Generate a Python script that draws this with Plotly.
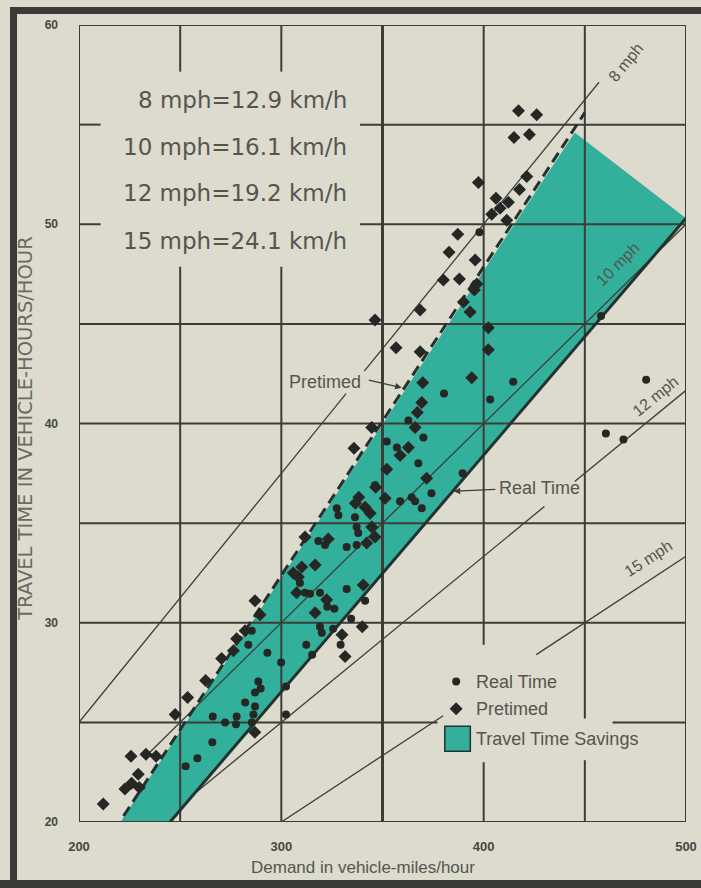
import plotly.graph_objects as go

# ---------------- data ----------------
x_grid = [200, 250, 300, 350, 400, 450, 500]
y_grid = [20, 25, 30, 35, 40, 45, 50, 55, 60]
x_ticks = [200, 300, 400, 500]
y_ticks = [20, 30, 40, 50, 60]

# Real Time observations (circles)
real_x = [252.7, 258.5, 265.9, 266.1, 272.2, 277.9, 277.6, 285.4, 286.2, 287.0,
          282.1, 287.0, 289.8, 288.6, 283.7, 285.4, 293.1, 299.9, 302.3, 302.3,
          312.3, 315.2, 320.0, 325.6, 326.2, 322.7, 319.1, 329.3, 334.5, 341.4,
          332.3, 309.2, 311.7, 314.2, 319.1, 318.3, 321.6, 327.4, 328.2, 336.4,
          337.2, 338.0, 337.2, 332.3, 346.3, 358.7, 364.4, 366.1, 369.4, 374.2,
          389.6, 367.7, 352.1, 357.1, 370.2, 362.8, 380.4, 403.2, 414.6, 397.9,
          458.0, 480.3, 460.4, 469.1]
real_y = [22.8, 23.2, 24.0, 25.3, 25.0, 25.3, 24.9, 25.0, 25.4, 25.8,
          26.0, 26.5, 26.7, 27.05, 28.9, 29.6, 28.5, 28.0, 26.8, 25.4,
          28.9, 28.4, 29.5, 29.7, 30.7, 30.8, 29.8, 28.9, 30.2, 31.1,
          31.7, 32.0, 31.5, 31.45, 31.5, 34.1, 33.9, 35.75, 35.4, 35.3,
          34.8, 34.5, 33.9, 33.8, 36.9, 36.1, 36.3, 36.1, 35.75, 36.5,
          37.5, 38.0, 39.1, 38.8, 39.3, 40.15, 41.5, 41.2, 42.1, 49.6,
          45.4, 42.2, 39.5, 39.2]

# Pretimed observations (diamonds)
pre_x = [212.0, 222.7, 226.0, 229.8, 229.3, 225.7, 233.1, 238.1, 247.5, 253.7,
         262.6, 270.5, 276.3, 277.9, 282.1, 289.5, 287.0, 286.9, 305.9, 308.4,
         307.6, 310.1, 316.7, 311.7, 323.2, 322.4, 316.7, 330.0, 331.5, 340.0,
         340.5, 335.9, 338.3, 336.6, 341.4, 343.9, 344.7, 346.3, 342.2, 346.6,
         352.1, 351.3, 362.8, 358.7, 371.8, 344.7, 366.1, 367.2, 369.4, 369.9,
         346.3, 356.7, 368.6, 368.6, 390.0, 393.3, 402.3, 402.3, 394.1, 380.1,
         388.0, 395.4, 396.6, 382.9, 395.8, 387.2, 404.0, 411.4, 408.1, 412.2,
         406.1, 417.7, 421.3, 397.4, 415.0, 422.6, 417.2, 426.2]
pre_y = [20.9, 21.65, 21.95, 21.73, 22.4, 23.3, 23.4, 23.3, 25.4, 26.25,
         27.1, 28.2, 28.6, 29.2, 29.6, 30.4, 31.1, 24.5, 32.5, 32.3,
         31.5, 32.8, 32.9, 34.3, 34.2, 31.15, 30.5, 29.4, 28.3, 29.8,
         31.9, 38.76, 36.3, 36.0, 35.8, 35.5, 34.8, 34.3, 34.0, 36.8,
         37.7, 36.25, 38.8, 38.4, 37.25, 39.8, 39.8, 40.55, 41.05, 42.05,
         45.2, 43.8, 43.6, 45.7, 46.1, 45.6, 44.8, 43.7, 42.3, 47.2,
         47.25, 46.7, 47.0, 48.6, 48.2, 49.5, 50.5, 50.2, 50.8, 51.1,
         51.3, 51.75, 52.4, 52.1, 54.35, 54.5, 55.7, 55.5]

# Travel time savings band
band_x = [220.5, 445, 500, 245]
band_y = [20.0, 54.6, 50.3, 20.0]

# fitted lines
pre_fit_x = [222, 450]
pre_fit_y = [20.3, 55.6]
real_fit_x = [245, 500]
real_fit_y = [20.0, 50.3]

# constant speed lines (travel time = demand / speed)
speeds = [8, 10, 12, 15]
speed_start = [200, 233, 257, 300]
speed_end = [457, 500, 500, 500]
speed_gaps = [(332, 341), None, (430, 445), (380, 426)]
speed_label_x = [470.3, 466.0, 484.7, 481.4]
speed_label_y = [58.1, 48.0, 41.35, 33.2]
speed_label_angle = [-51, -45, -39, -33]

conv_text = ["8 mph=12.9 km/h", "10 mph=16.1 km/h", "12 mph=19.2 km/h", "15 mph=24.1 km/h"]
conv_y = [56.24, 53.9, 51.56, 49.18]

# ---------------- style ----------------
BG = "#dcdbcd"
GRID = "#3d3d38"
INK = "#262624"
TEXT = "#55554f"
TEAL = "#33b09b"
LINE_DARK = "#22322f"

fig = go.Figure()

# band
fig.add_trace(go.Scatter(x=band_x + [band_x[0]], y=band_y + [band_y[0]], fill="toself",
                         fillcolor=TEAL, line=dict(width=0, color=TEAL), mode="lines",
                         hoverinfo="skip", showlegend=False))

# grid lines with gaps
def seg_with_gap(a0, a1, gap):
    if gap is None:
        return [(a0, a1)]
    return [(a0, gap[0]), (gap[1], a1)]

vgaps = {250: (47.87, 57.66), 300: (47.87, 57.66), 400: (23.0, 28.9), 450: (23.1, 25.2)}
hgaps = {50: (210.7, 338.9), 55: (210.7, 338.9), 25: (377.2, 463.7)}

for thick in (False, True):
    gx, gy = [], []
    for xv in x_grid:
        if (xv == 350) != thick:
            continue
        for s0, s1 in seg_with_gap(19.6, 60, vgaps.get(xv)):
            gx += [xv, xv, None]
            gy += [s0, s1, None]
    if not thick:
        for yv in y_grid:
            for s0, s1 in seg_with_gap(197.4, 500, hgaps.get(yv)):
                gx += [s0, s1, None]
                gy += [yv, yv, None]
    fig.add_trace(go.Scatter(x=gx, y=gy, mode="lines", cliponaxis=False,
                             line=dict(color=GRID, width=3 if thick else 2),
                             hoverinfo="skip", showlegend=False))

# speed lines
sx, sy = [], []
for sp, a, b, gap in zip(speeds, speed_start, speed_end, speed_gaps):
    for s0, s1 in seg_with_gap(a, b, gap):
        sx += [s0, s1, None]
        sy += [s0 / sp, s1 / sp, None]
fig.add_trace(go.Scatter(x=sx, y=sy, mode="lines", line=dict(color=GRID, width=1.3),
                         hoverinfo="skip", showlegend=False))

# fitted lines
fig.add_trace(go.Scatter(x=pre_fit_x, y=pre_fit_y, mode="lines",
                         line=dict(color=LINE_DARK, width=3, dash="11px,6px"),
                         hoverinfo="skip", showlegend=False))
fig.add_trace(go.Scatter(x=real_fit_x, y=real_fit_y, mode="lines",
                         line=dict(color=LINE_DARK, width=3),
                         hoverinfo="skip", showlegend=False))

# observations
fig.add_trace(go.Scatter(x=real_x, y=real_y, mode="markers",
                         marker=dict(symbol="circle", size=8, color=INK),
                         name="Real Time", showlegend=False))
fig.add_trace(go.Scatter(x=pre_x, y=pre_y, mode="markers",
                         marker=dict(symbol="diamond", size=10, color=INK),
                         name="Pretimed", showlegend=False))

# manual legend
fig.add_trace(go.Scatter(x=[386.4], y=[27.05], mode="markers",
                         marker=dict(symbol="circle", size=8, color=INK),
                         hoverinfo="skip", showlegend=False))
fig.add_trace(go.Scatter(x=[386.4], y=[25.68], mode="markers",
                         marker=dict(symbol="diamond", size=10, color=INK),
                         hoverinfo="skip", showlegend=False))
fig.add_shape(type="rect", x0=380.8, x1=393.4, y0=23.55, y1=24.8,
              fillcolor=TEAL, line=dict(color=LINE_DARK, width=1.5))

ann = []
lab_font = dict(family="Liberation Sans, Arial, sans-serif", size=18, color=TEXT)
for t, yy in zip(["Real Time", "Pretimed", "Travel Time Savings"], [27.05, 25.68, 24.17]):
    ann.append(dict(x=395.4, y=yy, text=t, showarrow=False, xanchor="left",
                    yanchor="middle", font=lab_font))

# conversion texts
for t, yy in zip(conv_text, conv_y):
    ann.append(dict(x=333.5, y=yy, text=t, showarrow=False, xanchor="right",
                    yanchor="middle",
                    font=dict(family="DejaVu Sans, sans-serif", size=23, color=TEXT)))

# speed labels
for sp, lx, ly, ang in zip(speeds, speed_label_x, speed_label_y, speed_label_angle):
    ann.append(dict(x=lx, y=ly, text=f"{sp} mph", showarrow=False, textangle=ang,
                    xanchor="center", yanchor="middle",
                    font=dict(family="Liberation Sans, Arial, sans-serif", size=16, color=TEXT)))

# line labels with arrows
ann.append(dict(x=321.6, y=42.1, text="Pretimed", showarrow=False, font=lab_font))
ann.append(dict(x=359.5, y=41.8, ax=342.5, ay=42.2, axref="x", ayref="y", xref="x", yref="y",
                text="", showarrow=True, arrowhead=2, arrowsize=1, arrowwidth=1.3,
                arrowcolor=GRID))
ann.append(dict(x=427.7, y=36.75, text="Real Time", showarrow=False, font=lab_font))
ann.append(dict(x=385.2, y=36.6, ax=406.5, ay=36.7, axref="x", ayref="y", xref="x", yref="y",
                text="", showarrow=True, arrowhead=2, arrowsize=1, arrowwidth=1.3,
                arrowcolor=GRID))

# axis titles
ann.append(dict(x=0.468, y=-0.0577, xref="paper", yref="paper",
                text="Demand in vehicle-miles/hour", showarrow=False,
                xanchor="center", yanchor="middle",
                font=dict(family="Liberation Sans, Arial, sans-serif", size=17, color=TEXT)))
ann.append(dict(x=-0.088, y=0.494, xref="paper", yref="paper",
                text="TRAVEL TIME IN VEHICLE-HOURS/HOUR", showarrow=False, textangle=-90,
                xanchor="center", yanchor="middle",
                font=dict(family="DejaVu Sans, sans-serif", size=19.5, color="#6a6a64")))

# frame (scan border)
frame_col = "#3a3a36"
shapes = [
    dict(type="rect", xref="paper", yref="paper", x0=-0.1137, x1=-0.1021, y0=-0.083, y1=1.0226,
         fillcolor=frame_col, line=dict(width=0), layer="above"),
    dict(type="rect", xref="paper", yref="paper", x0=-0.1137, x1=1.03, y0=1.0138, y1=1.0226,
         fillcolor=frame_col, line=dict(width=0), layer="above"),
    dict(type="rect", xref="paper", yref="paper", x0=-0.14, x1=1.03, y0=-0.085, y1=-0.0728,
         fillcolor=frame_col, line=dict(width=0), layer="above"),
]
for s in shapes:
    fig.add_shape(**s)

fig.update_layout(
    width=701, height=888, autosize=False,
    margin=dict(l=79, r=15, t=25, b=66, pad=0),
    paper_bgcolor=BG, plot_bgcolor=BG,
    annotations=ann,
    showlegend=False,
    xaxis=dict(range=[200, 500], showgrid=False, zeroline=False, showline=False,
               automargin=False,
               tickvals=x_ticks, ticktext=[f"<b>{v}</b>" for v in x_ticks], ticks="",
               ticklabelstandoff=15,
               tickfont=dict(family="Liberation Sans, Arial, sans-serif", size=13, color="#47473f")),
    yaxis=dict(range=[20, 60], showgrid=False, zeroline=False, showline=False,
               automargin=False,
               tickvals=y_ticks, ticktext=[f"<b>{v}</b>" for v in y_ticks], ticks="",
               ticklabelstandoff=20,
               tickfont=dict(family="Liberation Sans, Arial, sans-serif", size=12, color="#47473f")),
)

fig.write_html("out.html",
               config={"displayModeBar": False, "responsive": False},
               post_script="document.body.style.margin='0';document.body.style.overflow='hidden';")
